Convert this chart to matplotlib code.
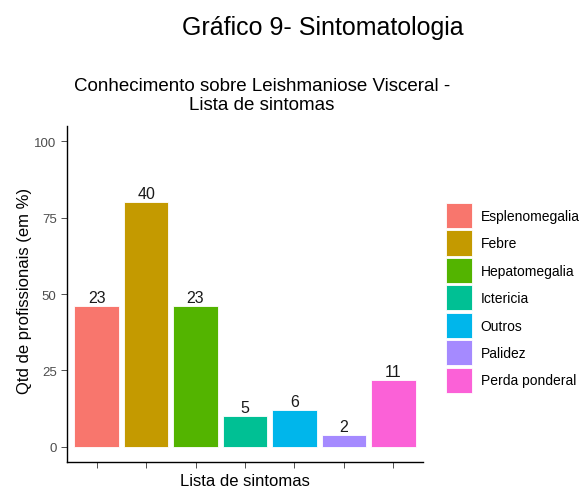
import matplotlib.pyplot as plt
from matplotlib.patches import Patch

plt.rcParams['font.family'] = ['Liberation Sans', 'DejaVu Sans']

legenda = ['Esplenomegalia', 'Febre', 'Hepatomegalia', 'Ictericia', 'Outros', 'Palidez', 'Perda ponderal']
qtd = [23, 40, 23, 5, 6, 2, 11]
pct = [46, 80, 46, 10, 12, 4, 22]
cores = ['#F8766D', '#C49A00', '#53B400', '#00C094', '#00B6EB', '#A58AFF', '#FB61D7']

fig = plt.figure(figsize=(5.85, 4.89), dpi=100)
ax = fig.add_axes([67/585, 26/489, (423-67)/585, (463-127)/489])

xx = range(1, len(pct) + 1)
ax.bar(xx, pct, width=0.9, color=cores, edgecolor='white', linewidth=0.6)
for x, y, n in zip(xx, pct, qtd):
    ax.text(x, y + 0.3, '%d' % n, ha='center', va='bottom', fontsize=11.5, color='#1a1a1a')

ax.set_xlim(0.4, 7.6)
ax.set_ylim(-5, 105)
ax.set_yticks([0, 25, 50, 75, 100])
ax.set_xticks(list(xx))
ax.set_xticklabels([])
ax.tick_params(axis='both', length=4, width=0.6, color='#333333', labelsize=9.5, labelcolor='#4D4D4D')
for s in ['top', 'right']:
    ax.spines[s].set_visible(False)
for s in ['left', 'bottom']:
    ax.spines[s].set_linewidth(1.0)
    ax.spines[s].set_color('black')

# rotulos dos eixos
fig.text(245/585, 1 - 482/489, 'Lista de sintomas', ha='center', va='center', fontsize=12)
fig.text(25/585, 1 - 291/489, 'Qtd de profissionais (em %)', ha='center', va='center',
         rotation=90, fontsize=12)

fig.text(323/585, 1 - 28/489, 'Gráfico 9- Sintomatologia', ha='center', va='center', fontsize=18)
fig.text(262/585, 1 - 96/489, 'Conhecimento sobre Leishmaniose Visceral -\nLista de sintomas',
         ha='center', va='center', fontsize=13.5, linespacing=1.2)

handles = [Patch(facecolor=c, edgecolor='white', linewidth=0.6) for c in cores]
fig.legend(handles, legenda, loc='upper left', bbox_to_anchor=(446/585, 1 - 204/489),
           frameon=False, fontsize=10, handlelength=1.9, handleheight=2.4,
           labelspacing=0.17, handletextpad=0.6, borderpad=0, borderaxespad=0)

plt.savefig('out.png', dpi=100)
